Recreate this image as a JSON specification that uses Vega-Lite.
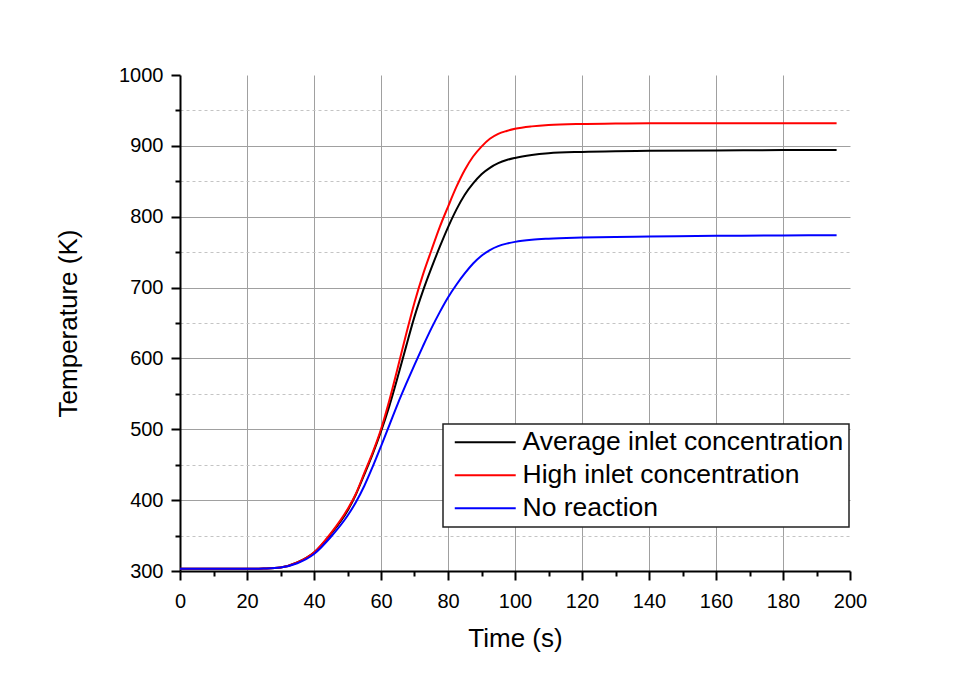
{
  "$schema": "https://vega.github.io/schema/vega-lite/v6.json",
  "autosize": {"type": "none"},
  "padding": {"left": 180, "top": 75, "right": 127, "bottom": 108},
  "width": 670,
  "height": 496,
  "background": "white",
  "config": {
    "view": {"stroke": null},
    "font": "Liberation Sans",
    "legend": {"strokeWidth": 1.5}
  },
  "data": {
    "values": [
      {"t":0,"T":303,"s":"Average inlet concentration"},{"t":10,"T":303,"s":"Average inlet concentration"},{"t":20,"T":303,"s":"Average inlet concentration"},{"t":25,"T":303.5,"s":"Average inlet concentration"},{"t":30,"T":305,"s":"Average inlet concentration"},{"t":35,"T":312,"s":"Average inlet concentration"},{"t":40,"T":326,"s":"Average inlet concentration"},{"t":45,"T":352,"s":"Average inlet concentration"},{"t":50,"T":385,"s":"Average inlet concentration"},{"t":52.5,"T":408,"s":"Average inlet concentration"},{"t":55,"T":436,"s":"Average inlet concentration"},{"t":57.5,"T":465,"s":"Average inlet concentration"},{"t":60,"T":497,"s":"Average inlet concentration"},{"t":62.5,"T":533,"s":"Average inlet concentration"},{"t":65,"T":574,"s":"Average inlet concentration"},{"t":67.5,"T":617,"s":"Average inlet concentration"},{"t":70,"T":659,"s":"Average inlet concentration"},{"t":72.5,"T":695,"s":"Average inlet concentration"},{"t":75,"T":727,"s":"Average inlet concentration"},{"t":77.5,"T":757,"s":"Average inlet concentration"},{"t":80,"T":785,"s":"Average inlet concentration"},{"t":82.5,"T":810,"s":"Average inlet concentration"},{"t":85,"T":831,"s":"Average inlet concentration"},{"t":87.5,"T":847,"s":"Average inlet concentration"},{"t":90,"T":860,"s":"Average inlet concentration"},{"t":92.5,"T":869,"s":"Average inlet concentration"},{"t":95,"T":875.5,"s":"Average inlet concentration"},{"t":97.5,"T":880,"s":"Average inlet concentration"},{"t":100,"T":883,"s":"Average inlet concentration"},{"t":105,"T":887,"s":"Average inlet concentration"},{"t":110,"T":889.5,"s":"Average inlet concentration"},{"t":120,"T":891.5,"s":"Average inlet concentration"},{"t":130,"T":892.5,"s":"Average inlet concentration"},{"t":140,"T":893,"s":"Average inlet concentration"},{"t":160,"T":893.5,"s":"Average inlet concentration"},{"t":180,"T":894,"s":"Average inlet concentration"},{"t":196,"T":894,"s":"Average inlet concentration"},
      {"t":0,"T":303,"s":"High inlet concentration"},{"t":10,"T":303,"s":"High inlet concentration"},{"t":20,"T":303,"s":"High inlet concentration"},{"t":25,"T":303.5,"s":"High inlet concentration"},{"t":30,"T":305,"s":"High inlet concentration"},{"t":35,"T":312,"s":"High inlet concentration"},{"t":40,"T":326,"s":"High inlet concentration"},{"t":45,"T":353,"s":"High inlet concentration"},{"t":50,"T":387,"s":"High inlet concentration"},{"t":52.5,"T":409,"s":"High inlet concentration"},{"t":55,"T":438,"s":"High inlet concentration"},{"t":57.5,"T":467,"s":"High inlet concentration"},{"t":60,"T":500,"s":"High inlet concentration"},{"t":62.5,"T":541,"s":"High inlet concentration"},{"t":65,"T":587,"s":"High inlet concentration"},{"t":67.5,"T":634,"s":"High inlet concentration"},{"t":70,"T":679,"s":"High inlet concentration"},{"t":72.5,"T":718,"s":"High inlet concentration"},{"t":75,"T":752,"s":"High inlet concentration"},{"t":77.5,"T":785,"s":"High inlet concentration"},{"t":80,"T":814,"s":"High inlet concentration"},{"t":82.5,"T":842,"s":"High inlet concentration"},{"t":85,"T":866,"s":"High inlet concentration"},{"t":87.5,"T":885,"s":"High inlet concentration"},{"t":90,"T":899,"s":"High inlet concentration"},{"t":92.5,"T":910,"s":"High inlet concentration"},{"t":95,"T":917,"s":"High inlet concentration"},{"t":97.5,"T":921,"s":"High inlet concentration"},{"t":100,"T":924,"s":"High inlet concentration"},{"t":105,"T":927.5,"s":"High inlet concentration"},{"t":110,"T":929.5,"s":"High inlet concentration"},{"t":120,"T":931,"s":"High inlet concentration"},{"t":130,"T":931.5,"s":"High inlet concentration"},{"t":140,"T":932,"s":"High inlet concentration"},{"t":160,"T":932,"s":"High inlet concentration"},{"t":180,"T":932,"s":"High inlet concentration"},{"t":196,"T":932,"s":"High inlet concentration"},
      {"t":0,"T":303,"s":"No reaction"},{"t":10,"T":303,"s":"No reaction"},{"t":20,"T":303,"s":"No reaction"},{"t":25,"T":303.5,"s":"No reaction"},{"t":30,"T":305,"s":"No reaction"},{"t":35,"T":311,"s":"No reaction"},{"t":40,"T":324,"s":"No reaction"},{"t":45,"T":348,"s":"No reaction"},{"t":50,"T":378,"s":"No reaction"},{"t":52.5,"T":397,"s":"No reaction"},{"t":55,"T":420,"s":"No reaction"},{"t":57.5,"T":447,"s":"No reaction"},{"t":60,"T":476,"s":"No reaction"},{"t":62.5,"T":506,"s":"No reaction"},{"t":65,"T":536,"s":"No reaction"},{"t":67.5,"T":564,"s":"No reaction"},{"t":70,"T":591,"s":"No reaction"},{"t":72.5,"T":617,"s":"No reaction"},{"t":75,"T":642,"s":"No reaction"},{"t":77.5,"T":665,"s":"No reaction"},{"t":80,"T":686,"s":"No reaction"},{"t":82.5,"T":704,"s":"No reaction"},{"t":85,"T":720,"s":"No reaction"},{"t":87.5,"T":734,"s":"No reaction"},{"t":90,"T":745,"s":"No reaction"},{"t":92.5,"T":753,"s":"No reaction"},{"t":95,"T":758.5,"s":"No reaction"},{"t":97.5,"T":762,"s":"No reaction"},{"t":100,"T":764.5,"s":"No reaction"},{"t":105,"T":767.5,"s":"No reaction"},{"t":110,"T":769,"s":"No reaction"},{"t":120,"T":770.5,"s":"No reaction"},{"t":130,"T":771.5,"s":"No reaction"},{"t":140,"T":772,"s":"No reaction"},{"t":160,"T":773,"s":"No reaction"},{"t":180,"T":773.5,"s":"No reaction"},{"t":196,"T":774,"s":"No reaction"}
    ]
  },
  "mark": {"type": "line", "strokeWidth": 2, "interpolate": "monotone"},
  "encoding": {
    "x": {
      "field": "t", "type": "quantitative",
      "scale": {"domain": [0, 200], "nice": false, "zero": false},
      "axis": {
        "title": "Time (s)",
        "values": [0,10,20,30,40,50,60,70,80,90,100,110,120,130,140,150,160,170,180,190,200],
        "labelExpr": "datum.value % 20 === 0 ? datum.label : ''",
        "format": "d",
        "labelFlush": false,
        "labelOverlap": false,
        "labelFont": "Liberation Sans", "labelFontSize": 20, "labelColor": "black", "labelPadding": 11,
        "titleFont": "Liberation Sans", "titleFontSize": 26, "titleFontWeight": "normal", "titleColor": "black", "titlePadding": 14,
        "domainColor": "black", "domainWidth": 2,
        "tickColor": "black", "tickWidth": 2,
        "tickSize": {"condition": {"test": "datum.value % 20 !== 0", "value": 5}, "value": 9},
        "grid": true,
        "gridColor": "#a0a0a0", "gridWidth": 1,
        "gridOpacity": {"condition": {"test": "datum.value % 20 !== 0 || datum.value === 0 || datum.value === 200", "value": 0}, "value": 1}
      }
    },
    "y": {
      "field": "T", "type": "quantitative",
      "scale": {"domain": [300, 1000], "nice": false, "zero": false},
      "axis": {
        "title": "Temperature (K)",
        "values": [300,350,400,450,500,550,600,650,700,750,800,850,900,950,1000],
        "labelExpr": "datum.value % 100 === 0 ? datum.label : ''",
        "format": "d",
        "labelFlush": false,
        "labelOverlap": false,
        "labelFont": "Liberation Sans", "labelFontSize": 20, "labelColor": "black", "labelPadding": 8,
        "titleFont": "Liberation Sans", "titleFontSize": 26, "titleFontWeight": "normal", "titleColor": "black", "titlePadding": 37,
        "domainColor": "black", "domainWidth": 2,
        "tickColor": "black", "tickWidth": 2,
        "tickSize": {"condition": {"test": "datum.value % 100 !== 0", "value": 5}, "value": 9},
        "grid": true,
        "gridColor": {"condition": {"test": "datum.value % 100 !== 0", "value": "#c4c4c4"}, "value": "#a0a0a0"},
        "gridDash": {"condition": {"test": "datum.value % 100 !== 0", "value": [3, 3]}, "value": []},
        "gridWidth": 1,
        "gridOpacity": {"condition": {"test": "datum.value === 300 || datum.value === 1000", "value": 0}, "value": 1}
      }
    },
    "color": {
      "field": "s", "type": "nominal",
      "scale": {
        "domain": ["Average inlet concentration", "High inlet concentration", "No reaction"],
        "range": ["#000000", "#ff0000", "#0000ff"]
      },
      "legend": {
        "title": null,
        "orient": "none",
        "legendX": 263,
        "legendY": 349,
        "symbolType": "M-3,0H3",
        "symbolSize": 413,
        "symbolStrokeWidth": 2,
        "symbolOffset": 24,
        "labelFont": "Liberation Sans",
        "labelFontSize": 26.5,
        "labelColor": "black",
        "labelOffset": 24,
        "labelLimit": 500,
        "rowPadding": 6,
        "padding": 5,
        "strokeColor": "#222222",
        "fillColor": "white",
        "cornerRadius": 0
      }
    }
  }
}
